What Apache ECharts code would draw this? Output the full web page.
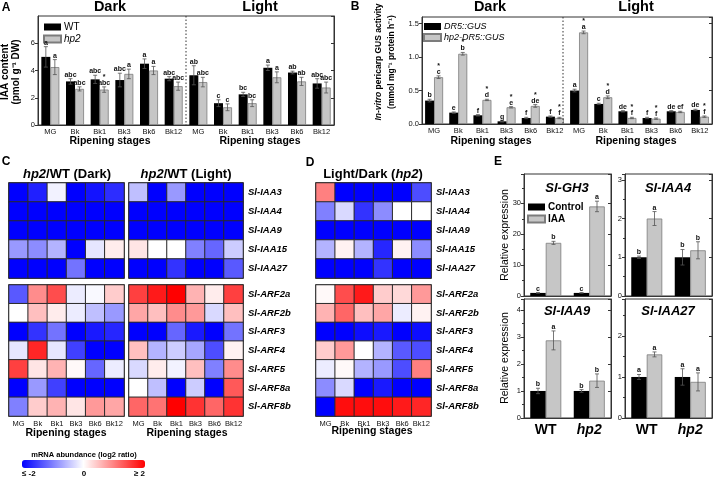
<!DOCTYPE html>
<html>
<head>
<meta charset="utf-8">
<title>IAA content, GUS activity and auxin gene expression</title>
<script src="https://cdn.jsdelivr.net/npm/echarts@6/dist/echarts.min.js"></script>
<style>
  html, body { margin: 0; padding: 0; background: #fff; }
  #main { width: 714px; height: 478px; }
</style>
</head>
<body>
<div id="main"></div>
<script>
var FONT = '"Liberation Sans", Arial, sans-serif';

// ---- panel A: IAA content (pmol/g DW)
var stages = ['MG', 'Bk', 'Bk1', 'Bk3', 'Bk6', 'Bk12', 'MG', 'Bk', 'Bk1', 'Bk3', 'Bk6', 'Bk12'];
var iaaWT      = [5.0, 3.2, 3.35, 3.3, 4.5, 3.4,  3.65, 1.6, 2.25, 4.2, 3.85, 3.05];
var iaaWTErr   = [0.75, 0.2, 0.3, 0.5, 0.35, 0.15, 0.7, 0.25, 0.15, 0.2, 0.1, 0.35];
var iaaHp2     = [4.25, 2.65, 2.6, 3.75, 4.0, 2.85, 3.15, 1.3, 1.6, 3.5, 3.2, 2.75];
var iaaHp2Err  = [0.55, 0.15, 0.2, 0.35, 0.3, 0.3,  0.35, 0.25, 0.25, 0.4, 0.3, 0.4];
var iaaWTLet   = ['a', 'abc', 'abc', 'abc', 'a', 'abc', 'ab', 'c', 'bc', 'a', 'ab', 'abc'];
var iaaHp2Let  = ['a', 'abc', '*\nabc', 'a', 'a', 'abc', 'abc', 'c', 'bc', 'a', 'ab', 'abc'];

// ---- panel B: in-vitro GUS activity
var gusDR5     = [0.35, 0.17, 0.13, 0.04, 0.09, 0.11, 0.50, 0.30, 0.19, 0.09, 0.19, 0.21];
var gusDR5Err  = [0.02, 0.01, 0.01, 0.01, 0.01, 0.01, 0.02, 0.01, 0.01, 0.01, 0.01, 0.01];
var gusHp2     = [0.70, 1.05, 0.36, 0.25, 0.27, 0.09, 1.37, 0.40, 0.09, 0.08, 0.18, 0.11];
var gusHp2Err  = [0.02, 0.02, 0.01, 0.01, 0.02, 0.01, 0.02, 0.02, 0.01, 0.01, 0.01, 0.01];
var gusDR5Let  = ['b', 'e', 'f', 'g', 'f', 'f', 'a', 'c', 'de', 'f', 'de', 'de'];
var gusHp2Let  = ['*\nc', '*\nb', '*\nd', '*\ne', '*\nde', '*\nf', '*\na', '*\nd', '*\nf', '*\nf', 'ef', '*\nf'];

// ---- panels C / D: log2 ratio heatmaps
var heatStages = ['MG', 'Bk', 'Bk1', 'Bk3', 'Bk6', 'Bk12'];
var iaaGenes = ['Sl-IAA3', 'Sl-IAA4', 'Sl-IAA9', 'Sl-IAA15', 'Sl-IAA27'];
var arfGenes = ['Sl-ARF2a', 'Sl-ARF2b', 'Sl-ARF3', 'Sl-ARF4', 'Sl-ARF5', 'Sl-ARF8a', 'Sl-ARF8b'];
var cDarkIAA = [
  [-2, -1.75, -0.1, -2, -1.85, -1.65],
  [-2, -2, -2, -2, -2, -2],
  [-2, -2, -2, -2, -2, -2],
  [-0.8, -0.9, -0.6, -2, -0.2, 0.15],
  [-2, -2, -2, -1.1, -2, -2]
];
var cDarkARF = [
  [-1.3, 0.9, 1.4, -0.15, -0.05, 0.4],
  [0, 0.5, 0.15, -0.15, -0.5, -0.8],
  [-2, -1.6, -1.1, -2, -1.8, -1.7],
  [-0.2, 1.7, -0.2, -1.5, -2, -2],
  [1.5, 0.2, 0.6, 0.05, -1.2, -0.15],
  [-2, -0.8, -1.5, -2, -2, -2],
  [-1.0, 0.4, 0.6, 0.2, 0.8, 0.7]
];
var cLightIAA = [
  [-0.5, -2, -0.8, -2, -2, -2],
  [-2, -2, -2, -2, -2, -2],
  [-2, -2, -2, -2, -2, -2],
  [0.2, 0, 0, -1.0, -1.2, -0.4],
  [-2, -2, -1.6, -2, -2, -1.3]
];
var cLightARF = [
  [1.5, 1.8, 2, 0.6, 0.15, 1.5],
  [0.7, 0.5, 0.9, 0.8, -0.3, 0.5],
  [-2, -2, -1.2, -1.8, -2, -1.1],
  [0.5, -0.6, -0.4, -0.7, -1.4, 0.1],
  [-0.3, 0.15, -0.1, 0.5, -1.0, 0.9],
  [0, -0.5, -2, -0.4, -2, 1.3],
  [1.2, 1.1, 2, 1.6, 1.2, 1.6]
];
var dIAA = [
  [1.0, -2, -2, -2, -2, -1.4],
  [-1.0, -0.3, -1.6, -0.9, 0, 0],
  [-2, -2, -2, -2, -2, -2],
  [-0.6, 0.1, -0.6, -1.7, 0.1, -0.9],
  [-2, -2, -2, -1.6, -2, -2]
];
var dARF = [
  [0.05, 1.4, 1.8, 0.4, 0.3, 0.8],
  [0.6, 1.2, 0.5, 0.7, -0.15, 0.1],
  [-2, -2, -1.9, -1.8, -2, -1.9],
  [0.4, 0.8, 0, -0.6, -1.3, -1.4],
  [-0.15, 0.05, -0.6, -0.8, -1.4, 1.0],
  [-0.9, -0.3, -2, -1.8, -2, -2],
  [-2, 1.9, 1.9, 1.9, 1.8, 1.7]
];

// ---- panel E: relative expression, control vs IAA
var genotypes = ['WT', 'hp2'];
var gh3Ctrl = [1.0, 1.0],  gh3CtrlErr = [0.1, 0.1],   gh3Iaa = [17.2, 29.0], gh3IaaErr = [0.5, 1.7];
var iaa4Ctrl = [1.0, 1.0], iaa4CtrlErr = [0.03, 0.2], iaa4Iaa = [2.0, 1.18], iaa4IaaErr = [0.18, 0.22];
var iaa9Ctrl = [1.0, 1.0], iaa9CtrlErr = [0.1, 0.05], iaa9Iaa = [2.87, 1.38], iaa9IaaErr = [0.35, 0.25];
var iaa27Ctrl = [1.0, 1.0], iaa27CtrlErr = [0.06, 0.2], iaa27Iaa = [1.55, 0.88], iaa27IaaErr = [0.06, 0.22];
var gh3Let = [['c', 'c'], ['b', 'a']];
var iaa4Let = [['b', 'b'], ['a', 'b']];
var iaa9Let = [['b', 'b'], ['a', 'b']];
var iaa27Let = [['a', 'a'], ['a', 'a']];

var chart = echarts.init(document.getElementById('main'));

var BLACK = '#000000', GREY = '#c6c6c6', GREY_EDGE = '#7c7c7c';

function errSeries(axis, vals, errs, lets, off) {
  return {
    type: 'custom', xAxisIndex: axis, yAxisIndex: axis, z: 5, silent: true,
    data: vals.map(function (v, i) { return [i, v, errs[i]]; }),
    encode: { x: 0, y: 1 },
    renderItem: function (params, api) {
      var i = api.value(0), v = api.value(1), e = api.value(2);
      var t = api.coord([i, v + e]), b = api.coord([i, Math.max(v - e, 0)]);
      var x = t[0] + off;
      function ln(x1, y1, x2, y2) {
        return { type: 'line', shape: { x1: x1, y1: y1, x2: x2, y2: y2 }, style: { stroke: '#555', lineWidth: 0.8 } };
      }
      var ch = [ln(x, t[1], x, b[1]), ln(x - 2, t[1], x + 2, t[1]), ln(x - 2, b[1], x + 2, b[1])];
      if (lets) {
        ch.push({ type: 'text', style: {
          text: lets[params.dataIndex], x: x, y: t[1] - 1,
          align: 'center', verticalAlign: 'bottom', textAlign: 'center', textVerticalAlign: 'bottom',
          font: 'bold 7px ' + FONT, fill: '#111', lineHeight: 6
        } });
      }
      return { type: 'group', children: ch };
    }
  };
}

function barPair(axis, n1, d1, n2, d2, w) {
  return [
    { type: 'bar', name: n1, xAxisIndex: axis, yAxisIndex: axis, data: d1, barWidth: w, barGap: '0%',
      itemStyle: { color: BLACK }, silent: true },
    { type: 'bar', name: n2, xAxisIndex: axis, yAxisIndex: axis, data: d2, barWidth: w, barGap: '0%',
      itemStyle: { color: GREY, borderColor: GREY_EDGE, borderWidth: 0.8 }, silent: true }
  ];
}

function toCells(m) {
  var out = [];
  m.forEach(function (row, r) { row.forEach(function (v, c) { out.push([c, r, v]); }); });
  return out;
}

// grids: 0 A, 1 B, 2-5 E, 6-11 heatmaps
var grids = [
  { left: 38, top: 16, width: 296, height: 109 },
  { left: 422, top: 17, width: 290, height: 107 },
  { left: 524, top: 174, width: 87, height: 122 },
  { left: 625, top: 174, width: 87, height: 122 },
  { left: 524, top: 299, width: 87, height: 119 },
  { left: 625, top: 299, width: 87, height: 119 },
  { left: 9, top: 183, width: 115, height: 95 },
  { left: 9, top: 285, width: 115, height: 131 },
  { left: 129, top: 183, width: 114, height: 95 },
  { left: 129, top: 285, width: 114, height: 131 },
  { left: 316, top: 183, width: 115, height: 95 },
  { left: 316, top: 285, width: 115, height: 131 }
].map(function (g, i) {
  g.show = true; g.borderColor = '#333'; g.borderWidth = i >= 6 ? 1.5 : 1; g.backgroundColor = 'transparent';
  return g;
});

var smallLbl = { fontSize: 7.5, color: '#111', fontFamily: FONT };

var xAxes = [
  { gridIndex: 0, type: 'category', data: stages, axisTick: { show: false }, axisLine: { lineStyle: { color: '#333' } },
    axisLabel: Object.assign({ margin: 3, interval: 0 }, smallLbl) },
  { gridIndex: 1, type: 'category', data: stages, axisTick: { show: false }, axisLine: { lineStyle: { color: '#333' } },
    axisLabel: Object.assign({ margin: 3, interval: 0 }, smallLbl) }
];
[2, 3, 4, 5].forEach(function (g) {
  xAxes.push({ gridIndex: g, type: 'category', data: genotypes, axisTick: { show: false },
    axisLine: { lineStyle: { color: '#333', width: 1.2 } },
    axisLabel: { show: g >= 4, interval: 0, hideOverlap: false, margin: 5, fontSize: 14, fontWeight: 'bold',
      fontFamily: FONT, color: '#000',
      formatter: function (v) { return v === 'hp2' ? '{i|hp2}' : '{n|' + v + '}'; },
      rich: { i: { fontStyle: 'italic', fontWeight: 'bold', fontSize: 14, fontFamily: FONT, color: '#000' },
              n: { fontWeight: 'bold', fontSize: 14, fontFamily: FONT, color: '#000' } } } });
});
[6, 7, 8, 9, 10, 11].forEach(function (g) {
  xAxes.push({ gridIndex: g, type: 'category', data: heatStages, axisTick: { show: false }, axisLine: { show: false },
    axisLabel: Object.assign({ show: g % 2 === 1, margin: 4, interval: 0 }, smallLbl) });
});

function valAxis(g, max, interval, fmt, minor) {
  return { gridIndex: g, type: 'value', min: 0, max: max, interval: interval,
    splitLine: { show: false }, axisLine: { show: true, lineStyle: { color: '#333' } },
    axisTick: { show: true, length: 3, lineStyle: { color: '#333' } },
    minorTick: { show: !!minor, splitNumber: 2, length: 2, lineStyle: { color: '#333' } },
    axisLabel: Object.assign({ margin: 3, showMaxLabel: false, formatter: fmt }, smallLbl) };
}
var yAxes = [
  valAxis(0, 8, 2, '{value}'),
  valAxis(1, 1.6, 0.5, function (v) { return v.toFixed(1); }),
  valAxis(2, 39.5, 10, '{value}', true),
  valAxis(3, 3.15, 1, '{value}', true),
  valAxis(4, 4.4, 1, '{value}', true),
  valAxis(5, 2.9, 1, '{value}', true)
];
[6, 7, 8, 9, 10, 11].forEach(function (g) {
  var upper = g % 2 === 0;
  yAxes.push({ gridIndex: g, type: 'category', data: upper ? iaaGenes : arfGenes, inverse: true,
    position: 'right', axisTick: { show: false }, axisLine: { show: false },
    axisLabel: { show: g >= 8, margin: 5, fontSize: 9.5, fontWeight: 'bold', fontStyle: 'italic', fontFamily: FONT, color: '#000' } });
});
// mirrored ticks on the right frame of the bar plots
[[0, 8, 2], [1, 1.6, 0.5], [2, 39.5, 10], [3, 3.15, 1], [4, 4.4, 1], [5, 2.9, 1]].forEach(function (a) {
  yAxes.push({ gridIndex: a[0], type: 'value', position: 'right', min: 0, max: a[1], interval: a[2],
    splitLine: { show: false }, axisLabel: { show: false }, axisLine: { show: true, lineStyle: { color: '#333' } },
    axisTick: { show: true, inside: true, length: 3, lineStyle: { color: '#333' } } });
});

var series = [];
series = series.concat(barPair(0, 'WT', iaaWT, 'hp2', iaaHp2, 9));
series.push(errSeries(0, iaaWT, iaaWTErr, iaaWTLet, -4.5));
series.push(errSeries(0, iaaHp2, iaaHp2Err, iaaHp2Let, 4.5));

series = series.concat(barPair(1, 'DR5::GUS', gusDR5, 'hp2-DR5::GUS', gusHp2, 9));
series.push(errSeries(1, gusDR5, gusDR5Err, gusDR5Let, -4.5));
series.push(errSeries(1, gusHp2, gusHp2Err, gusHp2Let, 4.5));

[[2, gh3Ctrl, gh3CtrlErr, gh3Iaa, gh3IaaErr, gh3Let],
 [3, iaa4Ctrl, iaa4CtrlErr, iaa4Iaa, iaa4IaaErr, iaa4Let],
 [4, iaa9Ctrl, iaa9CtrlErr, iaa9Iaa, iaa9IaaErr, iaa9Let],
 [5, iaa27Ctrl, iaa27CtrlErr, iaa27Iaa, iaa27IaaErr, iaa27Let]].forEach(function (p) {
  series = series.concat(barPair(p[0], 'Control', p[1], 'IAA', p[3], 15.5));
  series.push(errSeries(p[0], p[1], p[2], p[5][0], -7.75));
  series.push(errSeries(p[0], p[3], p[4], p[5][1], 7.75));
});

var heatIdx = [];
[[6, cDarkIAA], [7, cDarkARF], [8, cLightIAA], [9, cLightARF], [10, dIAA], [11, dARF]].forEach(function (h) {
  heatIdx.push(series.length);
  series.push({ type: 'heatmap', xAxisIndex: h[0], yAxisIndex: h[0], data: toCells(h[1]), silent: true,
    itemStyle: { borderColor: '#2a2a2a', borderWidth: 1 }, emphasis: { disabled: true } });
});

function txt(x, y, s, font, opt) {
  opt = opt || {};
  return { type: 'text', x: x, y: y, rotation: opt.rot || 0, silent: true, z: 10,
    style: { text: s, font: font, fill: '#000', align: opt.align || 'center', verticalAlign: 'middle',
      textAlign: opt.align || 'center', textVerticalAlign: 'middle', lineHeight: opt.lh, rich: opt.rich } };
}
var B = 'bold ', R90 = Math.PI / 2;
var italRich = function (size) { return { i: { fontStyle: 'italic', fontWeight: 'bold', fontSize: size, fontFamily: FONT } }; };

var graphics = [
  txt(6, 8, 'A', B + '12px ' + FONT), txt(355, 7, 'B', B + '12px ' + FONT),
  txt(6, 162, 'C', B + '12px ' + FONT), txt(310, 163, 'D', B + '12px ' + FONT), txt(498, 162, 'E', B + '12px ' + FONT),
  txt(110, 7, 'Dark', B + '14.5px ' + FONT), txt(260, 7, 'Light', B + '14.5px ' + FONT),
  txt(490, 7, 'Dark', B + '14.5px ' + FONT), txt(636, 7, 'Light', B + '14.5px ' + FONT),
  txt(110, 141, 'Ripening stages', B + '10.5px ' + FONT), txt(260, 141, 'Ripening stages', B + '10.5px ' + FONT),
  txt(491, 141, 'Ripening stages', B + '10.5px ' + FONT), txt(636, 141, 'Ripening stages', B + '10.5px ' + FONT),
  txt(11, 72, 'IAA content\n(pmol g\u207B\u00B9 DW)', B + '10px ' + FONT, { rot: R90, lh: 11 }),
  txt(385, 62, '{i|In-vitro} pericarp GUS activity\n(mmol mg\u207B\u00B9 protein h\u207B\u00B9)', B + '8.5px ' + FONT,
    { rot: R90, lh: 13, rich: italRich(8.5) }),
  txt(67, 174, '{i|hp2}/WT (Dark)', B + '13px ' + FONT, { rich: italRich(13) }),
  txt(186, 174, '{i|hp2}/WT (Light)', B + '13px ' + FONT, { rich: italRich(13) }),
  txt(373, 174, 'Light/Dark ({i|hp2})', B + '13px ' + FONT, { rich: italRich(13) }),
  txt(66, 433, 'Ripening stages', B + '10.5px ' + FONT), txt(187, 433, 'Ripening stages', B + '10.5px ' + FONT),
  txt(372, 431, 'Ripening stages', B + '10.5px ' + FONT),
  txt(84, 455, 'mRNA abundance (log2 ratio)', B + '7.5px ' + FONT),
  txt(22, 474, '\u2264 -2', B + '8px ' + FONT, { align: 'left' }), txt(84, 474, '0', B + '8px ' + FONT),
  txt(145, 474, '\u2265 2', B + '8px ' + FONT, { align: 'right' }),
  txt(567, 188, 'Sl-GH3', 'italic bold 13px ' + FONT), txt(668, 188, 'Sl-IAA4', 'italic bold 13px ' + FONT),
  txt(567, 311, 'Sl-IAA9', 'italic bold 13px ' + FONT), txt(668, 311, 'Sl-IAA27', 'italic bold 13px ' + FONT),
  txt(505, 235, 'Relative expression', '10.5px ' + FONT, { rot: R90 }),
  txt(505, 358, 'Relative expression', '10.5px ' + FONT, { rot: R90 }),
  { type: 'line', silent: true, z: 10, shape: { x1: 186, y1: 16, x2: 186, y2: 125 },
    style: { stroke: '#333', lineWidth: 1, lineDash: [1.5, 2] } },
  { type: 'line', silent: true, z: 10, shape: { x1: 563, y1: 17, x2: 563, y2: 124 },
    style: { stroke: '#333', lineWidth: 1, lineDash: [1.5, 2] } }
];

var legendBase = { orient: 'vertical', icon: 'rect', itemWidth: 17, itemHeight: 7, itemGap: 2, padding: 0,
  selectedMode: false, textStyle: { fontSize: 10, fontFamily: FONT, color: '#000', padding: [0, 0, 0, -2] } };
function legendAt(left, top, data, extra) {
  return Object.assign({}, legendBase, { left: left, top: top, data: data }, extra || {});
}

chart.setOption({
  animation: false,
  backgroundColor: '#fff',
  textStyle: { fontFamily: FONT },
  grid: grids,
  xAxis: xAxes,
  yAxis: yAxes,
  legend: [
    legendAt(43, 22, ['WT', { name: 'hp2', textStyle: { fontStyle: 'italic' } }]),
    legendAt(423, 22, [{ name: 'DR5::GUS', textStyle: { fontStyle: 'italic', fontSize: 9 } },
                       { name: 'hp2-DR5::GUS', textStyle: { fontStyle: 'italic', fontSize: 9 } }]),
    legendAt(527, 202, ['Control', 'IAA'], { textStyle: { fontSize: 10, fontWeight: 'bold', fontFamily: FONT, color: '#000', padding: [0, 0, 0, -2] } })
  ],
  visualMap: {
    type: 'continuous', min: -2, max: 2, orient: 'horizontal', left: 22, top: 460, padding: 0,
    itemWidth: 8, itemHeight: 123, calculable: false, seriesIndex: heatIdx,
    inRange: { color: ['#0000ff', '#ffffff', '#ff0000'] }
  },
  graphic: graphics,
  series: series
});
</script>
</body>
</html>
